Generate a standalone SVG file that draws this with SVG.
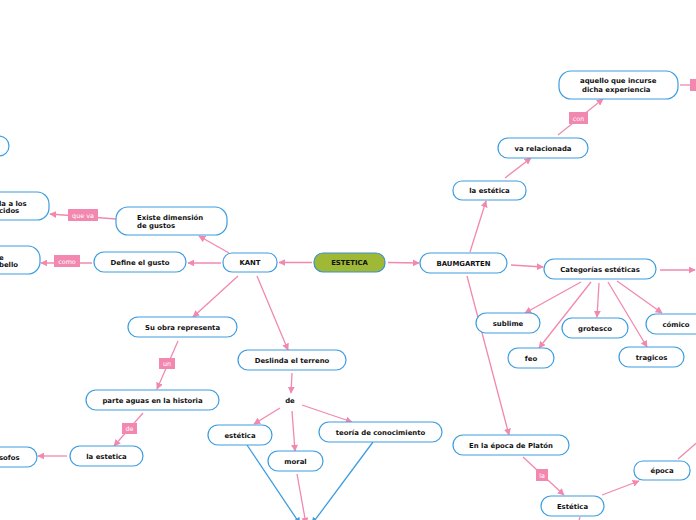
<svg xmlns="http://www.w3.org/2000/svg" width="696" height="520" viewBox="0 0 696 520">
<defs>
<marker id="ap" viewBox="0 0 10 10" refX="9" refY="5" markerWidth="7" markerHeight="7" markerUnits="userSpaceOnUse" orient="auto"><path d="M0,0 L10,5 L0,10 z" fill="#f288b0"/></marker>
<marker id="ab" viewBox="0 0 10 10" refX="9" refY="5" markerWidth="7" markerHeight="7" markerUnits="userSpaceOnUse" orient="auto"><path d="M0,0 L10,5 L0,10 z" fill="#3d9de0"/></marker>
<style>
.n rect{fill:#fff;stroke:#3d9de0;stroke-width:1.2}
.t{font-family:"DejaVu Sans",Verdana,sans-serif;font-size:6.9px;font-weight:bold;fill:#111;text-anchor:middle}
.ts{font-family:"DejaVu Sans",Verdana,sans-serif;font-size:6.9px;font-weight:bold;fill:#111}
.c path{fill:none;stroke:#f288b0;stroke-width:1.3;marker-end:url(#ap)}
.c path.nm{marker-end:none}
.c path.b{stroke:#3d9de0;marker-end:url(#ab)}
.l rect{fill:#f288b0}
.l text{font-family:"DejaVu Sans",Verdana,sans-serif;font-size:6.4px;fill:#fff;text-anchor:middle}
</style>
</defs>
<rect width="696" height="520" fill="#fff"/>
<g id="connectors" class="c">
<path d="M312,262.5 L279,262.5"/>
<path d="M388,262.5 L419,263"/>
<path d="M221,263 L188,263"/>
<path d="M92,263 L41,263"/>
<path d="M229,253 L199,236"/>
<path d="M116,219 L50,214"/>
<path d="M238,276 L193,317"/>
<path d="M178,341 L157,389"/>
<path d="M143,413 L114,446"/>
<path d="M67,456 L38,456"/>
<path d="M257,276 L288,350"/>
<path d="M292,373 L291,393"/>
<path d="M280,408 L254,424"/>
<path d="M292,411 L295,451"/>
<path d="M302,405 L352,422"/>
<path d="M297,474 L306,524"/>
<path class="b" d="M247,445 L300,524"/>
<path class="b" d="M373,442 L312,524"/>
<path d="M470,252 L486,201"/>
<path d="M505,178 L531,158"/>
<path d="M558,135 L603,99"/>
<path class="nm" d="M680,85 L696,85"/>
<path d="M511,265 L543,267"/>
<path d="M660,270 L695,270"/>
<path d="M581,282 L525,313"/>
<path d="M591,282 L539,348"/>
<path d="M599,283 L597,317"/>
<path d="M608,282 L647,347"/>
<path d="M617,281 L662,313"/>
<path d="M467,276 L509,435"/>
<path d="M523,457 L564,495"/>
<path d="M602,495 L639,481"/>
<path class="nm" d="M678,459 L700,440"/>
<path class="nm" d="M580,517 L578,524"/>
</g>
<g id="labels" class="l">
<g id="lbl-queva"><rect x="68" y="209" width="30" height="12"/><text x="83" y="217.5">que va</text></g>
<g id="lbl-como"><rect x="54" y="255" width="26" height="12"/><text x="67" y="263.5">como</text></g>
<g id="lbl-un"><rect x="159" y="358" width="16" height="11"/><text x="167" y="366">un</text></g>
<g id="lbl-de"><rect x="122" y="423" width="15" height="11"/><text x="129.5" y="431">de</text></g>
<g id="lbl-con"><rect x="569" y="112" width="19" height="12"/><text x="578.5" y="120.5">con</text></g>
<g id="lbl-la"><rect x="536" y="469" width="12" height="12"/><text x="542" y="477.5">la</text></g>
<g id="lbl-right"><rect x="690" y="79" width="20" height="12"/></g>
</g>
<g id="estetica"><rect x="314" y="253" width="71" height="19" rx="9" fill="#9fb835" stroke="#3d8fd0" stroke-width="1.2"/><text class="t" x="349.5" y="265">ESTETICA</text></g>
<g id="kant" class="n"><rect x="223" y="253" width="54" height="19" rx="9"/><text class="t" x="250" y="265">KANT</text></g>
<g id="baumgarten" class="n"><rect x="420" y="253" width="87" height="20" rx="10"/><text class="t" x="463.5" y="265.5">BAUMGARTEN</text></g>
<g id="define" class="n"><rect x="94" y="252" width="92" height="20" rx="10"/><text class="t" x="140" y="264.5">Define el gusto</text></g>
<g id="bello" class="n"><rect x="-60" y="246" width="100" height="28" rx="12"/><text class="ts" x="-1" y="259.5">e</text><text class="ts" x="-1" y="267">bello</text></g>
<g id="existe" class="n"><rect x="116" y="207" width="111" height="28" rx="12"/><text class="ts" x="137" y="220">Existe dimensión</text><text class="ts" x="137" y="228">de gustos</text></g>
<g id="alos" class="n"><rect x="-60" y="192" width="109" height="28" rx="12"/><text class="ts" x="-1" y="205.5">la a los</text><text class="ts" x="-1" y="213">cidos</text></g>
<g id="topleft" class="n"><rect x="-60" y="136" width="69" height="20" rx="10"/></g>
<g id="suobra" class="n"><rect x="128" y="317" width="109" height="20" rx="10"/><text class="t" x="182.5" y="329.5">Su obra representa</text></g>
<g id="parteaguas" class="n"><rect x="86" y="390" width="133" height="20" rx="10"/><text class="t" x="152.5" y="402.5">parte aguas en la historia</text></g>
<g id="laestetica" class="n"><rect x="70" y="446" width="73" height="20" rx="10"/><text class="t" x="106.5" y="458.5">la estetica</text></g>
<g id="sofos" class="n"><rect x="-60" y="447" width="97" height="20" rx="10"/><text class="ts" x="-1" y="459.5">sofos</text></g>
<g id="deslinda" class="n"><rect x="238" y="350" width="108" height="20" rx="10"/><text class="t" x="292" y="362.5">Deslinda el terreno</text></g>
<g id="de"><text class="t" x="290" y="403">de</text></g>
<g id="estetica2" class="n"><rect x="208" y="425" width="64" height="20" rx="10"/><text class="t" x="240" y="437.5">estética</text></g>
<g id="moral" class="n"><rect x="268" y="451" width="55" height="20" rx="10"/><text class="t" x="295.5" y="463.5">moral</text></g>
<g id="teoria" class="n"><rect x="319" y="422" width="123" height="20" rx="10"/><text class="t" x="380.5" y="434.5">teoría de conocimiento</text></g>
<g id="laestetica2" class="n"><rect x="453" y="181" width="73" height="19" rx="9"/><text class="t" x="489.5" y="193">la estética</text></g>
<g id="varelacionada" class="n"><rect x="498" y="138" width="90" height="20" rx="10"/><text class="t" x="543" y="150.5">va relacionada</text></g>
<g id="aquello" class="n"><rect x="559" y="71" width="119" height="28" rx="12"/><text class="ts" x="580" y="83">aquello que incurse</text><text class="ts" x="582" y="91.6">dicha experiencia</text></g>
<g id="categorias" class="n"><rect x="544" y="259" width="112" height="20" rx="10"/><text class="t" x="600" y="271.5">Categorías estéticas</text></g>
<g id="sublime" class="n"><rect x="476" y="313" width="64" height="20" rx="10"/><text class="t" x="508" y="325.5">sublime</text></g>
<g id="feo" class="n"><rect x="508" y="348" width="46" height="20" rx="10"/><text class="t" x="531" y="360.5">feo</text></g>
<g id="grotesco" class="n"><rect x="562" y="318" width="66" height="20" rx="10"/><text class="t" x="595" y="330.5">grotesco</text></g>
<g id="tragicos" class="n"><rect x="619" y="347" width="65" height="20" rx="10"/><text class="t" x="651.5" y="359.5">tragicos</text></g>
<g id="comico" class="n"><rect x="646" y="314" width="60" height="20" rx="10"/><text class="t" x="676" y="326.5">cómico</text></g>
<g id="platon" class="n"><rect x="453" y="435" width="116" height="20" rx="10"/><text class="t" x="511" y="447.5">En la época de Platón</text></g>
<g id="estetica3" class="n"><rect x="541" y="496" width="63" height="20" rx="10"/><text class="t" x="572.5" y="508.5">Estética</text></g>
<g id="epoca" class="n"><rect x="634" y="461" width="56" height="19" rx="9"/><text class="t" x="662" y="473">época</text></g>
</svg>
